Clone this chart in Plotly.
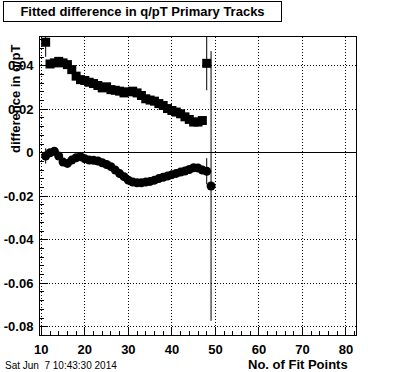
import plotly.graph_objects as go

# ---- data ----
x_sq = list(range(11, 49))
y_sq = [0.0508, 0.0408, 0.0413, 0.0420, 0.0413, 0.0405, 0.0382, 0.0352, 0.0336, 0.0332,
        0.0324, 0.0318, 0.0309, 0.0298, 0.0303, 0.0290, 0.0287, 0.0283, 0.0275, 0.0280,
        0.0283, 0.0275, 0.0263, 0.0248, 0.0242, 0.0237, 0.0226, 0.0217, 0.0203, 0.0194,
        0.0187, 0.0179, 0.0165, 0.0153, 0.0141, 0.0141, 0.0148, 0.0411]
e_sq = [0.0067] + [0.001] * 36 + [0.0124]

x_ci = list(range(11, 50))
y_ci = [-0.0015, 0.0000, 0.0007, -0.0015, -0.0043, -0.0049, -0.0034, -0.0023, -0.0018, -0.0028,
        -0.0034, -0.0035, -0.0038, -0.0046, -0.0054, -0.0064, -0.0080, -0.0096, -0.0110, -0.0126,
        -0.0135, -0.0138, -0.0138, -0.0135, -0.0132, -0.0126, -0.0119, -0.0113, -0.0107, -0.0101,
        -0.0095, -0.0089, -0.0084, -0.0077, -0.0069, -0.0070, -0.0080, -0.0085, -0.0153]
e_ci = [0.0035] + [0.0008] * 36 + [0.0060, 0.0620]

x_ticks = [10, 20, 30, 40, 50, 60, 70, 80]
y_ticks = [-0.08, -0.06, -0.04, -0.02, 0, 0.02, 0.04]
y_tick_labels = ["-0.08", "-0.06", "-0.04", "-0.02", "0", "0.02", "0.04"]

FONT = "Liberation Sans, Arial, Helvetica, sans-serif"

fig = go.Figure()
fig.add_trace(go.Scatter(
    x=x_sq, y=y_sq, mode="markers",
    marker=dict(symbol="square", size=9, color="black"),
    error_y=dict(type="data", array=e_sq, color="black", thickness=1, width=0),
    showlegend=False))
fig.add_trace(go.Scatter(
    x=x_ci, y=y_ci, mode="markers",
    marker=dict(symbol="circle", size=9, color="black"),
    error_y=dict(type="data", array=e_ci, color="black", thickness=1, width=0),
    showlegend=False))

axis_common = dict(
    automargin=False,
    showline=True, linecolor="black", linewidth=1, mirror=True,
    showgrid=True, gridcolor="black", griddash="1px,2px", gridwidth=1,
    ticks="inside", tickcolor="black", ticklen=8, tickwidth=1,
    tickfont=dict(family=FONT, size=13, color="black", weight="bold"),
)

fig.update_xaxes(range=[9.7, 82.3], tickvals=x_ticks, zeroline=False,
                 minor=dict(dtick=2, ticks="inside", ticklen=4, tickcolor="black", showgrid=False),
                 ticklabelstandoff=2, **axis_common)
fig.update_yaxes(range=[-0.0838, 0.0532], tickvals=y_ticks, ticktext=y_tick_labels,
                 zeroline=True, zerolinecolor="black", zerolinewidth=1,
                 minor=dict(dtick=0.004, ticks="inside", ticklen=4, tickcolor="black", showgrid=False),
                 ticklabelstandoff=3, **axis_common)

L, R, T, B = 40, 40, 37, 37
W, H = 396, 372
pw, ph = W - L - R, H - T - B

def px(x):
    return (x - L) / pw

def py(y):
    return (H - B - y) / ph

annotations = [
    dict(text="Fitted difference in q/pT Primary Tracks", xref="paper", yref="paper",
         x=px(3), y=py(1), xanchor="left", yanchor="top", showarrow=False,
         width=275, height=17, align="center", bordercolor="black", borderwidth=1,
         borderpad=1, bgcolor="white",
         font=dict(family=FONT, size=13, color="black", weight="bold")),
    dict(text="difference in q/pT", xref="paper", yref="paper",
         x=px(15), y=py(43), xanchor="center", yanchor="top", textangle=-90,
         showarrow=False, font=dict(family=FONT, size=13, color="black", weight="bold")),
    dict(text="No. of Fit Points", xref="paper", yref="paper",
         x=px(350), y=py(364), xanchor="right", yanchor="middle", showarrow=False,
         font=dict(family=FONT, size=13, color="black", weight="bold")),
    dict(text="Sat Jun  7 10:43:30 2014", xref="paper", yref="paper",
         x=px(3), y=py(365), xanchor="left", yanchor="middle", showarrow=False,
         font=dict(family=FONT, size=10, color="black")),
]

fig.update_layout(
    width=W, height=H,
    margin=dict(l=L, r=R, t=T, b=B, pad=0, autoexpand=False),
    paper_bgcolor="white", plot_bgcolor="white",
    annotations=annotations,
    font=dict(family=FONT, color="black"),
)

fig.write_html("out.html",
               config={"displayModeBar": False, "staticPlot": True},
               post_script="document.body.style.margin='0';document.body.style.overflow='hidden';")
